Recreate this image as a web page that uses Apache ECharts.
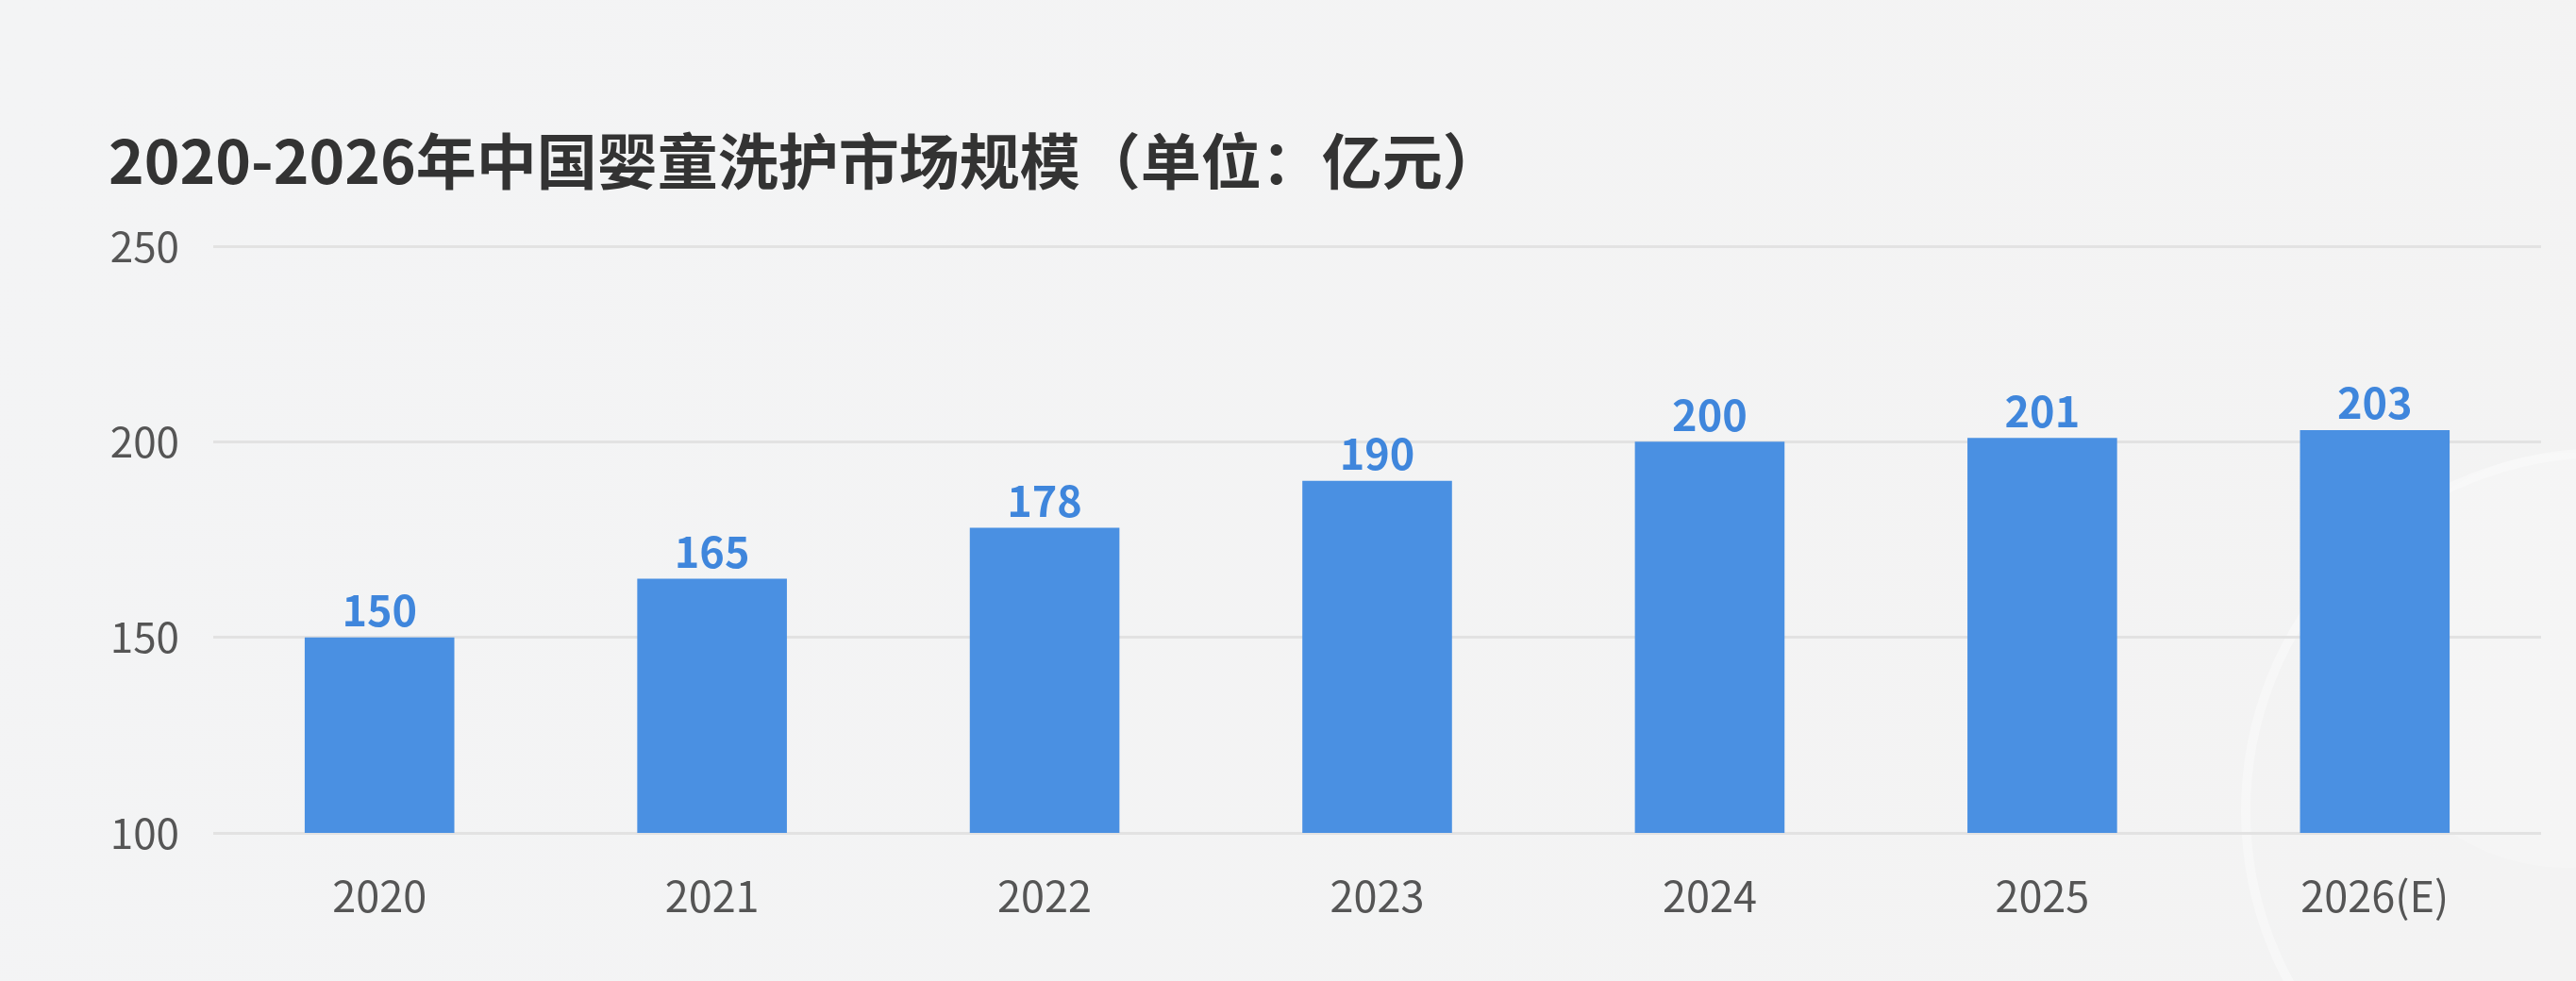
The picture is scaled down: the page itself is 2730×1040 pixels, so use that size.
<!DOCTYPE html>
<html lang="zh-CN" style="height: 100%">
<head>
  <meta charset="utf-8">
</head>
<body style="height: 100%; margin: 0">
  <div id="container" style="height: 100%"></div>

  <script type="text/javascript" src="https://fastly.jsdelivr.net/npm/echarts@6/dist/echarts.min.js"></script>
  <script type="text/javascript">
    // 数据
    var years = ['2020', '2021', '2022', '2023', '2024', '2025', '2026(E)'];
    var marketSize = [150, 165, 178, 190, 200, 201, 203];
    var yTicks = { min: 100, max: 250, interval: 50 };

    var dom = document.getElementById('container');
    var myChart = echarts.init(dom, null, { renderer: 'canvas' });
    var font = '"Noto Sans CJK SC", "Noto Sans", sans-serif';
    var option;

    option = {
      backgroundColor: {
        type: 'linear', x: 0, y: 0, x2: 1, y2: 1,
        colorStops: [
          { offset: 0, color: '#f3f4f5' },
          { offset: 1, color: '#f3f3f3' }
        ]
      },
      title: {
        text: '2020-2026年中国婴童洗护市场规模（单位：亿元）',
        left: 110,
        top: 134,
        textStyle: {
          fontFamily: font,
          fontSize: 64,
          fontWeight: 'bold',
          color: '#333333'
        }
      },
      // 右侧淡色水印
      graphic: [
        {
          type: 'circle',
          shape: { cx: 2760, cy: 860, r: 380 },
          style: { fill: 'none', stroke: 'rgba(255,255,255,0.35)', lineWidth: 10 },
          silent: true,
          z: -1
        },
        {
          type: 'circle',
          shape: { cx: 2720, cy: 700, r: 220 },
          style: { fill: 'rgba(255,255,255,0.18)' },
          silent: true,
          z: -1
        }
      ],
      grid: {
        left: 226,
        right: 37,
        top: 261,
        bottom: 157,
        containLabel: false
      },
      xAxis: {
        type: 'category',
        data: years,
        axisLine: { show: false },
        axisTick: { show: false },
        axisLabel: {
          margin: 44,
          fontFamily: font,
          fontSize: 45,
          color: '#555555'
        }
      },
      yAxis: {
        type: 'value',
        min: yTicks.min,
        max: yTicks.max,
        interval: yTicks.interval,
        axisLine: { show: false },
        axisTick: { show: false },
        axisLabel: {
          margin: 36,
          fontFamily: font,
          fontSize: 44,
          color: '#555555'
        },
        splitLine: {
          lineStyle: { color: '#e2e2e2', width: 3 }
        }
      },
      series: [
        {
          type: 'bar',
          data: marketSize,
          barWidth: '45%',
          itemStyle: { color: '#4a90e2' },
          label: {
            show: true,
            position: 'top',
            distance: 6,
            fontFamily: font,
            fontSize: 45,
            fontWeight: 'bold',
            color: '#3f86dc'
          }
        }
      ]
    };

    myChart.setOption(option);
    window.addEventListener('resize', myChart.resize);
  </script>
</body>
</html>
